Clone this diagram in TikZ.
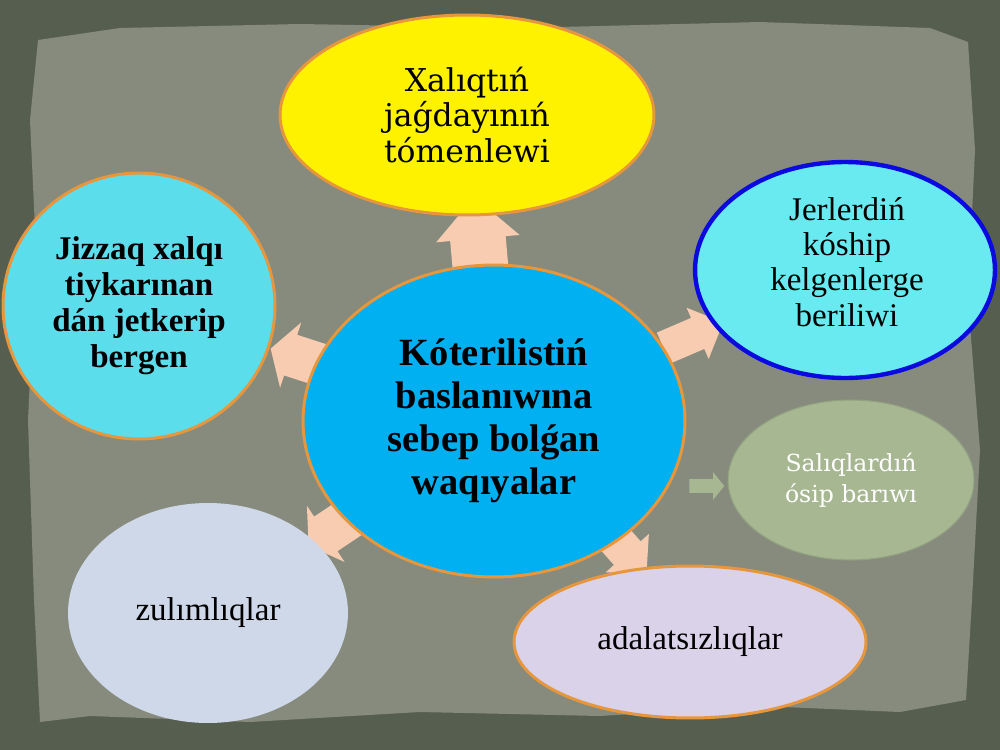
\documentclass[tikz,border=0pt]{standalone}
\usepackage{fontspec}
\setmainfont{Liberation Serif}
\newfontfamily\dvs{DejaVu Serif}
\usetikzlibrary{shapes.geometric,shapes.arrows}
\pgfdeclarelayer{bg}\pgfdeclarelayer{arr}
\pgfsetlayers{bg,arr,main}
\definecolor{outerbg}{HTML}{565F4F}
\definecolor{paper}{HTML}{878B7D}
\definecolor{orng}{HTML}{E6963C}
\definecolor{cblue}{HTML}{00B0F0}
\definecolor{jizc}{HTML}{5CDDEB}
\definecolor{jerc}{HTML}{68EAF0}
\definecolor{jerb}{HTML}{0A0AE0}
\definecolor{salc}{HTML}{A6B792}
\definecolor{zulc}{HTML}{CED8E8}
\definecolor{adac}{HTML}{DAD2E8}
\definecolor{peach}{HTML}{F8CCB0}
\begin{document}
\begin{tikzpicture}[x=0.02cm,y=-0.02cm,
  ell/.style={ellipse, inner sep=0pt, align=center, text=black},
  obord/.style={draw=orng, line width=1.7pt},
  barrow/.style={single arrow, draw=none, fill=peach, inner xsep=0pt, sloped, allow upside down, anchor=center},
]
\useasboundingbox (0,0) rectangle (1000,750);
% main nodes
\node[ell, obord, fill=yellow, minimum width=7.48cm, minimum height=4cm,
      font=\dvs\fontsize{17.9}{20}\selectfont] (yellow) at (467,115)
      {Xalıqtıń\\jaǵdayınıń\\tómenlewi};
\node[ell, obord, fill=cblue, minimum width=7.64cm, minimum height=6.24cm,
      font=\bfseries\fontsize{21.9}{24.5}\selectfont] (central) at (494,421)
      {Kóterilistiń\\baslanıwına\\sebep bolǵan\\waqıyalar};
\node[ell, obord, fill=jizc, minimum width=5.44cm, minimum height=5.32cm,
      font=\bfseries\fontsize{18.8}{20.5}\selectfont] (jizzaq) at (139,306)
      {Jizzaq xalqı\\tiykarınan\\dán jetkerip\\bergen};
\node[ell, draw=jerb, line width=2.5pt, fill=jerc, minimum width=6cm, minimum height=4.32cm] (jerler) at (845,270) {};
\node[align=center, font=\fontsize{18.8}{20}\selectfont] (jertext) at (847,262)
      {Jerlerdiń\\kóship\\kelgenlerge\\beriliwi};
\node[ell, fill=salc, draw=salc!88!black, line width=0.6pt, minimum width=4.92cm, minimum height=3.2cm,
      text=white, font=\dvs\fontsize{13.4}{17.6}\selectfont] (saliq) at (851,480)
      {Salıqlardıń\\ósip barıwı};
\node[ell, fill=zulc, minimum width=5.6cm, minimum height=4.4cm,
      font=\fontsize{18.8}{20}\selectfont] (zulim) at (208,613) {zulımlıqlar};
\node[ell, obord, fill=adac, minimum width=7.04cm, minimum height=3.04cm,
      font=\fontsize{18.8}{20}\selectfont] (adalat) at (690,642) {adalatsızlıqlar};
% background
\begin{pgfonlayer}{bg}
\fill[outerbg] (0,0) rectangle (1000,750);
\fill[paper] (38,40) -- (120,28) -- (300,24) -- (520,28) -- (760,22) -- (930,28) -- (968,42)
  -- (975,150) -- (968,300) -- (980,450) -- (972,600) -- (966,700) -- (900,712) -- (760,706)
  -- (600,716) -- (420,712) -- (250,722) -- (90,716) -- (40,722) -- (34,600) -- (28,420)
  -- (36,250) -- (30,120) -- cycle;
\end{pgfonlayer}
% arrows
\begin{pgfonlayer}{arr}
\path (central.center) -- (yellow.center) node[barrow, pos=0.56, minimum height=1.56cm,
   inner ysep=0.55cm, single arrow head extend=0.28cm, single arrow tip angle=90] (a1) {};
\path (central.center) -- (jerler.center) node[barrow, pos=0.546, minimum height=1.3cm,
   inner ysep=0.33cm, single arrow head extend=0.22cm, single arrow tip angle=90] (a2) {};
\path (central.center) -- (jizzaq.center) node[barrow, pos=0.538, minimum height=1.1cm,
   inner ysep=0.42cm, single arrow head extend=0.26cm, single arrow tip angle=117] (a3) {};
\path (central.center) -- (zulim.center) node[barrow, pos=0.55, minimum height=1.1cm,
   inner ysep=0.41cm, single arrow head extend=0.26cm, single arrow tip angle=117] (a4) {};
\path ([shift={(9,-8)}]central.center) -- ([shift={(9,-8)}]adalat.center) node[barrow, pos=0.6, minimum height=1.2cm,
   inner ysep=0.35cm, single arrow head extend=0.22cm, single arrow tip angle=90] (a5) {};
\node[single arrow, draw=none, fill=salc, inner xsep=0pt, inner ysep=0.13cm, minimum height=0.7cm,
   single arrow head extend=0.14cm, single arrow tip angle=102] (a6) at (704,486) {};
\end{pgfonlayer}
\end{tikzpicture}
\end{document}
